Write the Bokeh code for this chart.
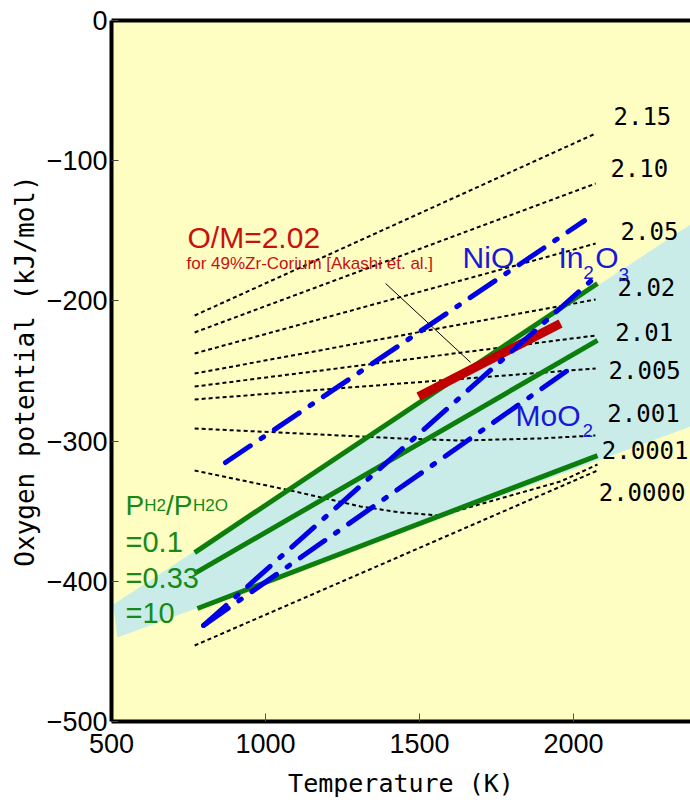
from bokeh.plotting import figure
from bokeh.models import LinearAxis, FixedTicker, CustomJSTickFormatter
from bokeh.core.properties import value
from bokeh.embed import file_html
from bokeh.resources import INLINE

# ---------------- data ----------------
# O/M iso-lines (straight ones): start at T0, end at T1
om_straight_labels = ["2.15", "2.10", "2.05", "2.02", "2.01", "2.005"]
om_T0 = 770
om_T1 = 2072
om_G0 = [-210.4, -222.5, -237.5, -251.8, -261.1, -270.3]
om_G1 = [-80.6, -116.3, -159.1, -199.0, -224.7, -248.2]

om2001_T = [770, 1049, 1438, 1633, 1893, 2071]
om2001_G = [-291.0, -293.9, -298.1, -299.6, -298.1, -296.0]

om20001_T = [770, 1081, 1308, 1438, 1568, 1763, 1958, 2078]
om20001_G = [-321.0, -335.2, -346.6, -350.9, -353.1, -340.9, -328.8, -316.7]

om20000_T = [770, 2078]
om20000_G = [-445.8, -321.0]

# right-hand O/M labels
om_labels = ["2.15", "2.10", "2.05", "2.02", "2.01", "2.005", "2.001", "2.0001", "2.0000"]
om_label_T = [2130, 2120, 2153, 2143, 2136, 2114, 2110, 2092, 2082]
om_label_G = [-68.2, -105.3, -150.2, -190.2, -222.3, -249.4, -280.0, -306.4, -336.4]

# H2/H2O gas ratio lines
gas_ratio = ["0.1", "0.33", "10"]
gas_T = [[770, 2078], [770, 2078], [779, 2078]]
gas_G = [[-379.5, -187.6], [-394.4, -228.2], [-419.4, -310.3]]

# corium O/M = 2.02
corium_T = [1497, 1958]
corium_G = [-268.2, -216.1]

# metal/oxide equilibria
oxides = ["NiO", "In2O3", "MoO2"]
oxide_T = [[870, 2036], [799, 2062], [799, 1981]]
oxide_G = [[-315.3, -142.7], [-431.5, -184.7], [-431.5, -249.6]]

# shaded band
band_T = [506, 519, 2412, 2412]
band_G = [-416.6, -440.1, -287.0, -140.9]

x_ticks = [500, 1000, 1500, 2000, 2500]
y_ticks = [-500, -400, -300, -200, -100, 0]

# ---------------- styling ----------------
YELLOW = "#FEFEC3"
BAND = "#C9ECE8"
GREEN = "#0C7E0C"
GREEN_T = "#168A16"
BLUE = "#0000E6"
BLUE_T = "#1818D8"
RED = "#C00000"
RED_T = "#C81010"

p = figure(width=690, height=806, x_range=(500, 2380), y_range=(-500, 0),
           output_backend="svg", toolbar_location=None,
           min_border_left=111, min_border_right=0, min_border_top=20,
           min_border_bottom=85, background_fill_color=YELLOW,
           border_fill_color="white", outline_line_color=None)
p.xgrid.visible = False
p.ygrid.visible = False

tick_fmt = CustomJSTickFormatter(code="return tick < 0 ? '\\u2212' + Math.abs(tick) : String(tick);")

xa = p.xaxis[0]
xa.ticker = FixedTicker(ticks=x_ticks)
xa.axis_line_width = 4
xa.axis_line_color = "black"
xa.major_tick_in = 8
xa.major_tick_out = 0
xa.major_tick_line_color = "#555555"
xa.minor_tick_line_color = None
xa.major_label_text_font = "Liberation Sans"
xa.major_label_text_font_size = "27px"
xa.major_label_text_color = "black"
xa.major_label_standoff = 12
xa.axis_label = "Temperature (K)"
xa.axis_label_text_font = "DejaVu Sans Mono"
xa.axis_label_text_font_style = "normal"
xa.axis_label_text_font_size = "25px"
xa.axis_label_text_color = "black"
xa.axis_label_standoff = 13

ya = p.yaxis[0]
ya.ticker = FixedTicker(ticks=y_ticks)
ya.formatter = tick_fmt
ya.axis_line_width = 4
ya.axis_line_color = "black"
ya.major_tick_in = 7
ya.major_tick_out = 0
ya.major_tick_line_color = "#444444"
ya.minor_tick_line_color = None
ya.major_label_text_font = "Liberation Sans"
ya.major_label_text_font_size = "27px"
ya.major_label_text_color = "black"
ya.major_label_standoff = 4
ya.axis_label = "Oxygen potential (kJ/mol)"
ya.axis_label_text_font = "DejaVu Sans Mono"
ya.axis_label_text_font_style = "normal"
ya.axis_label_text_font_size = "26px"
ya.axis_label_text_color = "black"
ya.axis_label_standoff = 4

top = LinearAxis(ticker=FixedTicker(ticks=[]), axis_line_width=4, axis_line_color="black",
                 major_label_text_font_size="0px", major_tick_in=0, major_tick_out=0,
                 minor_tick_line_color=None)
p.add_layout(top, "above")

# band
p.patch(band_T, band_G, fill_color=BAND, line_color=None)

# dotted O/M lines
p.multi_line([[om_T0, om_T1] for _ in om_G0], [[a, b] for a, b in zip(om_G0, om_G1)],
             line_color="black", line_width=2, line_dash="4 3")
p.line(om2001_T, om2001_G, line_color="black", line_width=2, line_dash="4 3")
p.line(om20001_T, om20001_G, line_color="black", line_width=2, line_dash="4 3")
p.line(om20000_T, om20000_G, line_color="black", line_width=2, line_dash="4 3")

# green gas ratio lines
p.multi_line(gas_T, gas_G, line_color=GREEN, line_width=5)

# red corium line
p.line(corium_T, corium_G, line_color=RED, line_width=9)

# blue oxide lines
p.multi_line(oxide_T, oxide_G, line_color=BLUE, line_width=5,
             line_dash="30 13 3 13", line_cap="round")

# annotation leader line
p.line([1390, 1666], [-187.6, -243.9], line_color="black", line_width=1)

# right-hand O/M labels
p.text(om_label_T, om_label_G, text=om_labels, text_font=value("DejaVu Sans Mono"),
       text_font_size="24px", text_color="black", text_baseline="alphabetic",
       text_align="left")

# oxide labels
p.text([1640, 1951, 2071, 1812], [-169.4, -168.7, -168.7, -281.4],
       text=["NiO", "In", "O", "MoO"], text_font=value("Liberation Sans"),
       text_font_size="30px", text_color=BLUE_T, text_baseline="alphabetic")
p.text([2032, 2146, 2029], [-179.4, -181.5, -292.1], text=["2", "3", "2"],
       text_font=value("Liberation Sans"), text_font_size="19px",
       text_color=BLUE_T, text_baseline="alphabetic")

# corium labels
p.text([746.8], [-155.1], text=["O/M=2.02"], text_font=value("Liberation Sans"),
       text_font_size="30px", text_color=RED_T, text_baseline="alphabetic")
p.text([743.5], [-173.0], text=["for 49%Zr-Corium [Akashi et. al.]"],
       text_font=value("Liberation Sans"), text_font_size="17px",
       text_color=RED_T, text_baseline="alphabetic")

# gas ratio legend
p.text([545.5, 545.5], [-345.6, -345.6], text=["P", "/P"], x_offset=[0, 40.4],
       text_font=value("Liberation Sans"), text_font_size="28px",
       text_color=GREEN_T, text_baseline="alphabetic")
p.text([545.5, 545.5], [-345.6, -345.6], text=["H2", "H2O"], x_offset=[18.7, 67.5],
       text_font=value("Liberation Sans"), text_font_size="17px",
       text_color=GREEN_T, text_baseline="alphabetic")
p.text([545.5] * 3, [-372.0, -397.6, -422.6], text=["=" + g for g in gas_ratio],
       text_font=value("Liberation Sans"), text_font_size="29px",
       text_color=GREEN_T, text_baseline="alphabetic")

open("out.html", "w").write(file_html(p, INLINE))
